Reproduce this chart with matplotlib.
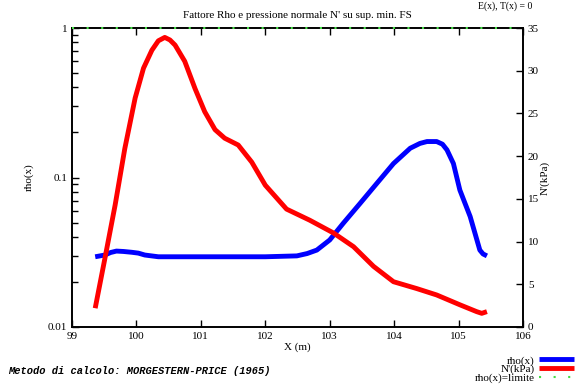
import matplotlib.pyplot as plt

plt.rcParams['font.family'] = ['Liberation Serif', 'DejaVu Serif']

# rho(x)
x_rho = [99.36, 99.51, 99.60, 99.69, 99.80, 99.93, 100.03, 100.13, 100.34, 101.0, 101.5, 102.0,
         102.49, 102.65, 102.80, 103.0, 103.21, 103.47, 103.73, 103.99, 104.25, 104.40, 104.51,
         104.66, 104.75, 104.82, 104.92, 105.02, 105.18, 105.33, 105.38, 105.44]
rho = [0.0295, 0.0303, 0.0315, 0.0322, 0.0320, 0.0316, 0.0312, 0.0303, 0.0295, 0.0295, 0.0295,
       0.0295, 0.0299, 0.0310, 0.0327, 0.0382, 0.0494, 0.0670, 0.0912, 0.124, 0.157, 0.169,
       0.174, 0.174, 0.167, 0.153, 0.124, 0.0824, 0.0548, 0.0327, 0.0308, 0.0299]

# N'(kPa)
x_n = [99.36, 99.51, 99.67, 99.82, 99.98, 100.11, 100.24, 100.34, 100.44, 100.52, 100.60, 100.75,
       100.91, 101.06, 101.22, 101.37, 101.58, 101.79, 102.0, 102.33, 102.69, 103.06, 103.37,
       103.68, 103.99, 104.35, 104.66, 105.02, 105.28, 105.36, 105.44]
n_kpa = [2.2, 8.0, 14.3, 20.9, 26.8, 30.3, 32.4, 33.5, 33.9, 33.6, 33.0, 31.1,
         27.9, 25.2, 23.1, 22.1, 21.3, 19.3, 16.6, 13.8, 12.5, 11.0, 9.4,
         7.1, 5.3, 4.5, 3.75, 2.6, 1.8, 1.6, 1.8]

x_lim = [99, 106]
rho_lim = [1, 1]

fig = plt.figure(figsize=(5.8, 3.84), dpi=100)
ax = fig.add_axes([72/580, 1-327/384, 451/580, 299/384])
ax.set_yscale('log')
ax.set_xlim(99, 106)
ax.set_ylim(0.01, 1)
l1, = ax.plot(x_rho, rho, color='#0000ff', lw=3.5, solid_capstyle='butt', solid_joinstyle='round')
ax.set_xticks(range(99, 107))
ax.set_xticklabels([str(v) for v in range(99, 107)])
ax.set_yticks([0.01, 0.1, 1])
ax.set_yticklabels(['0.01', '0.1', '1'])
ax.tick_params(which='both', direction='in', labelsize=8, top=True, length=5, width=1)
ax.tick_params(which='minor', length=4)
ax.set_xlabel('X (m)', fontsize=8, labelpad=1)
ax.set_ylabel('rho(x)', fontsize=8, labelpad=10)

ax2 = ax.twinx()
ax2.set_ylim(0, 35)
l2, = ax2.plot(x_n, n_kpa, color='#ff0000', lw=3.5, solid_capstyle='butt', solid_joinstyle='round')
# limit line drawn on the top axes so the dots sit over the frame
l3, = ax2.plot(x_lim, rho_lim, color='#44dd44', lw=1.5, ls=(0, (1, 6)), zorder=5,
               clip_on=False, transform=ax.transData)
ax2.set_yticks(range(0, 36, 5))
ax2.tick_params(direction='in', labelsize=8, length=5, width=1)
ax2.set_ylabel("N'(kPa)", fontsize=8, labelpad=1)
for a in (ax, ax2):
    for s in a.spines.values():
        s.set_linewidth(1.2)

ax.set_title("Fattore Rho e pressione normale N' su sup. min. FS", fontsize=8, pad=7)

fig.legend([l1, l2, l3], ['rho(x)', "N'(kPa)", 'rho(x)=limite'], loc='upper right',
           bbox_to_anchor=(1.0, 1-350/384), frameon=False, fontsize=8, markerfirst=False,
           handlelength=3.2, handletextpad=0.4, labelspacing=-0.1, borderpad=0)

fig.text(8/580, 1-371/384, 'Metodo di calcolo: MORGESTERN-PRICE (1965)', fontsize=7.5,
         family='Liberation Mono', weight='bold', style='italic', va='center')
fig.text(478/580, 1-1/384, 'E(x), T(x) = 0', fontsize=7, va='top')

fig.savefig('out.png', dpi=100)
